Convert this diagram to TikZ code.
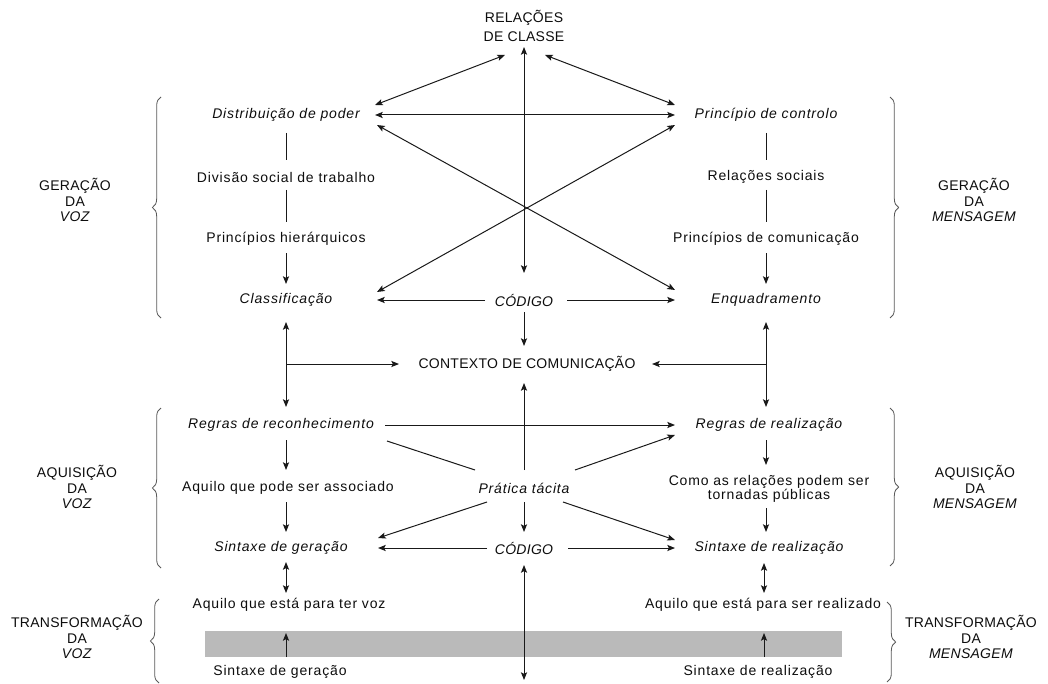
\documentclass[tikz,border=0pt]{standalone}
\usepackage{fontspec}
\setmainfont{Liberation Sans}[LetterSpace=6]
\newfontfamily\capsf{Liberation Sans}[LetterSpace=2]
\usetikzlibrary{arrows.meta,calc,decorations.pathreplacing}
\begin{document}
\begin{tikzpicture}[x=0.75pt,y=0.75pt,
  every node/.style={inner sep=0pt, text=black!95, font=\fontsize{10.5}{12}\selectfont},
  it/.style={font=\fontsize{10.5}{12}\selectfont\itshape},
  capsty/.style={font=\fontsize{10.5}{12}\selectfont\capsf},
  capit/.style={font=\fontsize{10.5}{12}\selectfont\capsf\itshape},
  lbl/.style={align=center, font=\fontsize{10.5}{11.6}\selectfont\capsf},
  conn/.style={line width=0.75pt, draw=black!90},
  tip/.tip={Stealth[length=5.8pt,width=4.6pt,inset=1.2pt]},
  arr/.style={conn, -tip},
  darr/.style={conn, tip-tip},
  brc/.style={decorate, decoration={brace, amplitude=6.5pt}, line width=0.6pt, draw=black!65},
  bar/.style={fill=black!27, draw=none}]
\useasboundingbox (0,0) rectangle (1048,-684);

% gray band
\fill[bar] (205,-631) rectangle (842,-657);

% nodes
\node[align=center, font=\fontsize{10.5}{14.2}\selectfont\capsf] (rc) at (524,-26) {RELAÇÕES\\DE CLASSE};
\node[it] (dp) at (286,-115) {Distribuição de poder};
\node[it] (pc) at (766,-115) {Princípio de controlo};
\node (dst) at (286,-177) {Divisão social de trabalho};
\node (rs) at (766,-177) {Relações sociais};
\node (ph) at (286,-239) {Princípios hierárquicos};
\node (pcom) at (766,-239) {Princípios de comunicação};
\node[it] (cl) at (286,-300) {Classificação};
\node[capit] (cod1) at (524,-300) {CÓDIGO};
\node[it] (enq) at (766,-300) {Enquadramento};
\node[capsty] (ctx) at (527,-364) {CONTEXTO DE COMUNICAÇÃO};
\node[it] (rr) at (281,-425) {Regras de reconhecimento};
\node[it] (rz) at (769,-425) {Regras de realização};
\node (aq) at (288,-488) {Aquilo que pode ser associado};
\node[it] (pt) at (524,-488) {Prática tácita};
\node[align=center, font=\fontsize{10.5}{11}\selectfont] (como) at (769,-489) {Como as relações podem ser\\tornadas públicas};
\node[it] (sg) at (281,-548) {Sintaxe de geração};
\node[capit] (cod2) at (524,-548) {CÓDIGO};
\node[it] (sr) at (769,-548) {Sintaxe de realização};
\node (atv) at (289,-605) {Aquilo que está para ter voz};
\node (asr) at (763,-605) {Aquilo que está para ser realizado};
\node (sg2) at (280,-672) {Sintaxe de geração};
\node (sr2) at (758,-672) {Sintaxe de realização};
\coordinate (bot) at (524,-680);

% side labels
\node[lbl] (gv) at (75,-200) {GERAÇÃO\\DA\\\textit{VOZ}};
\node[lbl] (gm) at (974,-200) {GERAÇÃO\\DA\\\textit{MENSAGEM}};
\node[lbl] (av) at (77,-487) {AQUISIÇÃO\\DA\\\textit{VOZ}};
\node[lbl] (am) at (975,-487) {AQUISIÇÃO\\DA\\\textit{MENSAGEM}};
\node[lbl] (tv) at (77,-637) {TRANSFORMAÇÃO\\DA\\\textit{VOZ}};
\node[lbl] (tm) at (971,-637) {TRANSFORMAÇÃO\\DA\\\textit{MENSAGEM}};

% braces
\draw[brc] (161,-318) -- (161,-97);
\draw[brc] (890,-97) -- (890,-318);
\draw[brc] (161,-568) -- (161,-408);
\draw[brc] (890,-408) -- (890,-566);
\draw[brc] (159,-683) -- (159,-599);
\draw[brc] (887,-602) -- (887,-682);

% top block connectors
\draw[darr] ($(rc)+(-19,-29)$) -- ($(dp)+(89,10)$);
\draw[darr] ($(rc)+(21,-29)$) -- ($(pc)+(-91,10)$);
\draw[darr] ($(dp)+(89,0)$) -- ($(pc)+(-91,0)$);
\draw[darr] ($(dp)+(91,-10)$) -- ($(enq)+(-91,10)$);
\draw[darr] ($(pc)+(-91,-10)$) -- ($(cl)+(91,8)$);
\draw[darr] ($(rc)+(0,-21)$) -- ($(cod1)+(0,27)$);
\draw[conn] ($(dp)+(0,-18)$) -- ($(dst)+(0,17)$);
\draw[conn] ($(dst)+(0,-13)$) -- ($(ph)+(0,17)$);
\draw[arr] ($(ph)+(0,-14)$) -- ($(cl)+(0,16)$);
\draw[conn] ($(pc)+(0,-18)$) -- ($(rs)+(0,17)$);
\draw[conn] ($(rs)+(0,-13)$) -- ($(pcom)+(0,17)$);
\draw[arr] ($(pcom)+(0,-14)$) -- ($(enq)+(0,16)$);
\draw[arr] ($(cod1)+(-39,0)$) -- ($(cl)+(91,0)$);
\draw[arr] ($(cod1)+(43,0)$) -- ($(enq)+(-91,0)$);
\draw[arr] ($(cod1)+(0,-12)$) -- ($(ctx)+(-3,18)$);

% context links
\draw[darr] ($(cl)+(0,-22)$) -- ($(rr)+(5,18)$);
\draw[arr] ($(cl)+(0,-64)$) -- ($(ctx)+(-128,0)$);
\draw[darr] ($(enq)+(0,-22)$) -- ($(rz)+(-3,18)$);
\draw[arr] ($(enq)+(0,-64)$) -- ($(ctx)+(125,0)$);
\draw[arr] ($(pt)+(0,18)$) -- ($(ctx)+(-3,-19)$);

% middle block
\draw[arr] ($(rr)+(104,0)$) -- ($(rz)+(-94,0)$);
\draw[conn] ($(rr)+(106,-16)$) -- ($(pt)+(-49,18)$);
\draw[arr] ($(pt)+(51,18)$) -- ($(rz)+(-94,-10)$);
\draw[arr] ($(pt)+(-37,-14)$) -- ($(sg)+(97,10)$);
\draw[arr] ($(pt)+(39,-14)$) -- ($(sr)+(-94,8)$);
\draw[arr] ($(pt)+(0,-14)$) -- ($(cod2)+(0,16)$);
\draw[arr] ($(cod2)+(-37,0)$) -- ($(sg)+(97,0)$);
\draw[arr] ($(cod2)+(44,0)$) -- ($(sr)+(-94,0)$);
\draw[arr] ($(rr)+(5,-15)$) -- ($(aq)+(-2,18)$);
\draw[arr] ($(aq)+(-2,-14)$) -- ($(sg)+(5,16)$);
\draw[arr] ($(rz)+(-3,-15)$) -- ($(como)+(-3,24)$);
\draw[arr] ($(como)+(-3,-19)$) -- ($(sr)+(-3,16)$);

% bottom block
\draw[darr] ($(sg)+(5,-14)$) -- ($(atv)+(-3,12)$);
\draw[darr] ($(sr)+(-5,-15)$) -- ($(asr)+(1,12)$);
\draw[darr] ($(cod2)+(0,-17)$) -- (bot);
\draw[arr] ($(sg2)+(6,15)$) -- ($(atv)+(-3,-28)$);
\draw[arr] ($(sr2)+(6,15)$) -- ($(asr)+(1,-28)$);
\end{tikzpicture}
\end{document}
